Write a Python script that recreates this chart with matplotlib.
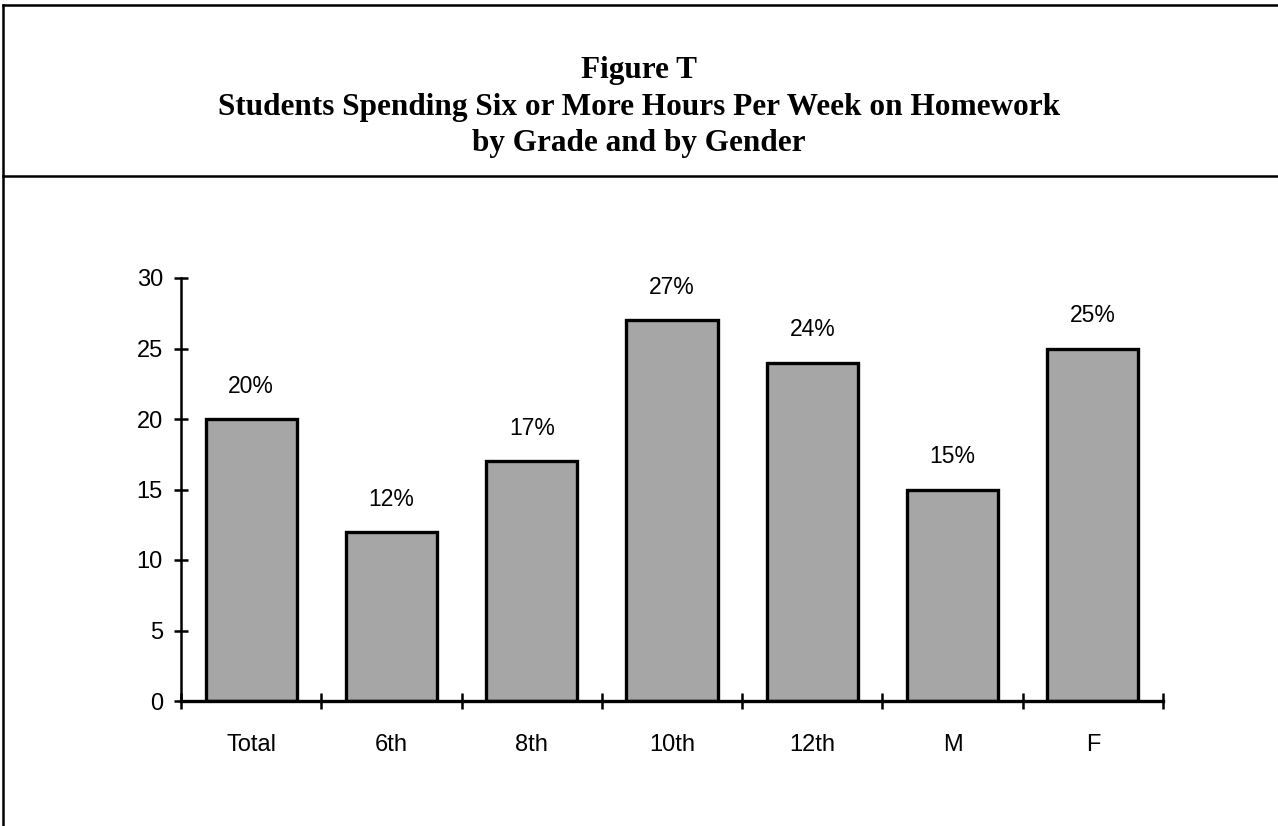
import matplotlib
matplotlib.use("Agg")
import matplotlib.pyplot as plt
from matplotlib.lines import Line2D

categories = ["Total", "6th", "8th", "10th", "12th", "M", "F"]
values = [20, 12, 17, 27, 24, 15, 25]
value_labels = ["20%", "12%", "17%", "27%", "24%", "15%", "25%"]
yticks = [0, 5, 10, 15, 20, 25, 30]
title_lines = ["Figure T",
               "Students Spending Six or More Hours Per Week on Homework",
               "by Grade and by Gender"]

W, H = 1278, 826
fig = plt.figure(figsize=(W / 100, H / 100), dpi=100)
fig.patch.set_facecolor("white")

def fx(x): return x / W
def fy(y): return 1 - y / H

# frame lines
for (x0, y0, x1, y1) in [(3, 5, W, 5), (3, 5, 3, H), (3, 176, W, 176)]:
    fig.add_artist(Line2D([fx(x0), fx(x1)], [fy(y0), fy(y1)], color="black", lw=1.8))

title_baselines = [78, 115, 151]
for txt, y in zip(title_lines, title_baselines):
    fig.text(0.5, fy(y), txt, ha="center", va="baseline", family="Liberation Serif",
             fontweight="bold", fontsize=22.5)

ax = fig.add_axes([fx(181), fy(701), fx(1163) - fx(181), fy(278) - fy(701)])
x = list(range(len(categories)))
ax.bar(x, values, width=0.65, color="#a6a6a6", edgecolor="black", linewidth=2.4, zorder=2)

for xi, v, lab in zip(x, values, value_labels):
    ax.annotate(lab, (xi, v), xytext=(0, 23.5), textcoords="offset points",
                ha="center", va="center", family="Liberation Sans", fontsize=16.5)

ax.set_xlim(-0.5, len(categories) - 0.5)
ax.set_ylim(0, 30)
for s in ["top", "right"]:
    ax.spines[s].set_visible(False)
ax.spines["left"].set_linewidth(1.8)
ax.spines["bottom"].set_linewidth(2.4)

ax.set_yticks(yticks)
ax.set_yticklabels([str(t) for t in yticks], family="Liberation Sans", fontsize=17)
ax.tick_params(axis="y", direction="inout", length=10, width=1.8, pad=8)

ax.set_xticks(x)
ax.set_xticklabels(categories, family="Liberation Sans", fontsize=17)
ax.tick_params(axis="x", which="major", length=0, pad=24)
ax.set_xticks([i - 0.5 for i in range(len(categories) + 1)], minor=True)
ax.tick_params(axis="x", which="minor", direction="inout", length=12, width=1.8)

fig.savefig("out.png", dpi=100, facecolor="white")
